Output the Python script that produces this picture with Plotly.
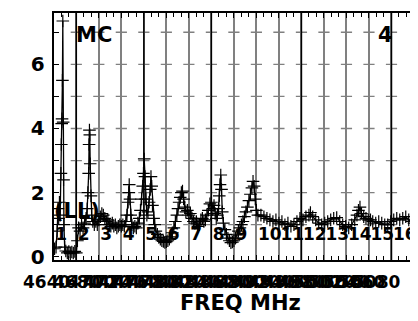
import plotly.graph_objects as go

# --- データ ---
# 周波数 (MHz) と VSWR
freq = [4651, 4653, 4654.5, 4655.5, 4656.5, 4657.5, 4658.5, 4659.5, 4660, 4660.5,
        4661, 4661.5, 4662, 4662.5, 4663, 4663.5, 4664.5, 4666, 4668, 4670,
        4672, 4674, 4676, 4678, 4680, 4681.5, 4683, 4685, 4687, 4689,
        4691, 4693, 4694.5, 4695.5, 4696.5, 4697, 4697.5, 4698, 4698.5, 4699.5,
        4700.5, 4702, 4704, 4706, 4708, 4710, 4712, 4714, 4716, 4718,
        4720, 4722, 4724, 4726, 4728, 4730, 4732, 4734, 4736, 4738,
        4740, 4742, 4744, 4746, 4747.5, 4749, 4750, 4750.5, 4751.5, 4752.5,
        4754, 4756, 4758, 4760, 4762, 4764, 4765.5, 4767, 4768.5, 4769.5,
        4770.5, 4771.5, 4772.5, 4774, 4775.5, 4777, 4778.5, 4779.5, 4780.5, 4781.5,
        4783, 4784.5, 4786, 4788, 4790, 4792, 4794, 4796, 4798, 4800,
        4802, 4804, 4806, 4808, 4810, 4812, 4814, 4815.5, 4817, 4818.5,
        4820, 4821.5, 4823, 4824.5, 4826, 4828, 4830, 4832, 4834, 4836,
        4838, 4840, 4842, 4844, 4846, 4848, 4850, 4852, 4854, 4856,
        4858, 4860, 4862, 4863.5, 4865, 4866.5, 4868, 4869.5, 4870.5, 4871.5,
        4872.5, 4873.5, 4874.5, 4876, 4878, 4880, 4882, 4884, 4886, 4888,
        4890, 4892, 4894, 4896, 4898, 4900, 4902, 4904, 4906, 4908,
        4910, 4912, 4914, 4915.5, 4917, 4918.5, 4920, 4922, 4926, 4930,
        4934, 4938, 4942, 4946, 4950, 4954, 4958, 4962, 4966, 4970,
        4974, 4978, 4982, 4986, 4990, 4992, 4995, 4999, 5003, 5007,
        5011, 5015, 5019, 5023, 5027, 5031, 5035, 5039, 5043, 5047,
        5051, 5054, 5056, 5058, 5060, 5063, 5066, 5069, 5072, 5075,
        5079, 5083, 5087, 5091, 5095, 5099, 5103, 5107, 5111, 5115,
        5119, 5123, 5127, 5130]
vswr = [0.25, 0.3, 0.8, 1.5, 1.2, 1.7, 1.3, 2.6, 3.5, 4.15,
        4.3, 5.5, 7.35, 4.2, 2.4, 1.0, 0.3, 0.18, 0.12, 0.16,
        0.1, 0.15, 0.12, 0.17, 0.12, 0.5, 0.9, 0.8, 1.0, 0.9,
        1.05, 1.2, 1.5, 2.0, 2.6, 3.5, 3.95, 3.8, 2.9, 1.9,
        1.3, 1.1, 1.0, 1.1, 1.0, 1.15, 1.25, 1.35, 1.3, 1.2,
        1.1, 1.15, 1.0, 0.95, 1.05, 0.95, 1.0, 0.9, 0.95, 1.0,
        0.95, 1.0, 0.95, 1.1, 1.3, 1.7, 2.0, 2.25, 1.8, 1.3,
        1.0, 0.9, 0.95, 0.9, 1.05, 1.2, 1.45, 1.8, 2.2, 2.6,
        3.05, 2.5, 1.8, 1.3, 1.4, 1.7, 2.1, 2.5, 2.2, 1.6,
        1.2, 1.0, 0.8, 0.7, 0.6, 0.55, 0.5, 0.48, 0.45, 0.47,
        0.5, 0.55, 0.62, 0.75, 0.9, 1.1, 1.3, 1.5, 1.7, 1.85,
        2.0, 2.05, 1.8, 1.55, 1.4, 1.45, 1.3, 1.35, 1.2, 1.1,
        1.05, 1.1, 0.95, 1.0, 1.15, 1.2, 1.1, 1.15, 1.3, 1.45,
        1.65, 1.7, 1.5, 1.6, 1.35, 1.2, 1.3, 1.5, 1.9, 2.25,
        2.55, 2.1, 1.4, 1.05, 0.85, 0.7, 0.58, 0.5, 0.44, 0.46,
        0.5, 0.58, 0.68, 0.8, 0.9, 1.0, 1.1, 1.25, 1.4, 1.55,
        1.75, 1.95, 2.15, 2.35, 2.2, 1.8, 1.45, 1.3, 1.3, 1.25,
        1.2, 1.15, 1.1, 1.15, 1.05, 1.1, 1.0, 1.05, 0.95, 1.0,
        1.1, 1.2, 1.15, 1.25, 1.3, 1.38, 1.25, 1.15, 1.05, 1.0,
        1.05, 1.1, 1.15, 1.2, 1.22, 1.1, 1.0, 0.95, 0.9, 1.0,
        1.15, 1.3, 1.45, 1.55, 1.35, 1.25, 1.2, 1.15, 1.15, 1.1,
        1.05, 1.1, 1.05, 1.0, 1.0, 1.1, 1.15, 1.2, 1.15, 1.2,
        1.25, 1.15, 1.1, 1.05]

# チャンネル番号と開始周波数
chan_no = ["1", "2", "3", "4", "5", "6", "7", "8",
           "9", "10", "11", "12", "13", "14", "15", "16"]
chan_start = [4650, 4680, 4710, 4740, 4770, 4800, 4830, 4860,
              4890, 4920, 4950, 4980, 5010, 5040, 5070, 5100]

# 周波数目盛り
tick_freq = [4640, 4680, 4700, 4720, 4740, 4760, 4780, 4800, 4820, 4840,
             4860, 4880, 4900, 4920, 4940, 4960, 4980, 5000, 5020, 5040,
             5060, 5080]

# 濃い縦線
dark_lines = [4680, 4770, 4860, 4980, 5100]

X_MIN, X_MAX = 4650, 5130
Y_MIN, Y_MAX = -0.1, 7.6
BOLD = dict(family="DejaVu Sans", color="black", weight="bold")

# 図の寸法 (ページ本体の余白 8px 分だけ左上にずらしてある)
FIG_W, FIG_H = 410, 313
M_L, M_R = 5, 2
PLOT_L = 46                      # 描画領域の左端 (図内 px)
PAPER_W = FIG_W - M_L - M_R
X_DOMAIN0 = (PLOT_L - M_L) / PAPER_W


def freq_to_paper(f):
    """周波数を paper 座標 (x) に変換"""
    frac = (f - X_MIN) / (X_MAX - X_MIN)
    return X_DOMAIN0 + frac * (1 - X_DOMAIN0)


fig = go.Figure()

# グリッド上の十字マーク
cx, cy = [], []
for c in chan_start[1:]:
    for j in range(1, 8):
        cx.append(c)
        cy.append(j)
fig.add_trace(go.Scatter(
    x=cx, y=cy, mode="markers", hoverinfo="skip",
    marker=dict(symbol="line-ew", size=8, line=dict(color="#808080", width=1.3))
))

# 濃い縦線
dx, dy = [], []
for f in dark_lines:
    dx += [f, f, None]
    dy += [Y_MIN, Y_MAX, None]
fig.add_trace(go.Scatter(x=dx, y=dy, mode="lines", hoverinfo="skip",
                         line=dict(color="black", width=1.5)))

# VSWR 曲線
fig.add_trace(go.Scatter(
    x=freq, y=vswr, mode="lines+markers",
    line=dict(color="black", width=1.3),
    marker=dict(symbol="cross-thin", size=9, line=dict(color="black", width=1.2))
))

# チャンネル番号
fig.add_trace(go.Scatter(
    x=[c + 2 for c in chan_start], y=[0.66] * len(chan_start),
    mode="text", text=chan_no, textposition="middle right",
    textfont=dict(BOLD, size=17),
    cliponaxis=False
))

# 周波数目盛りラベル (軸の範囲外にもあるので paper 座標で置く)
annotations = []
for t in tick_freq:
    annotations.append(dict(
        x=freq_to_paper(t), y=0, xref="paper", yref="paper",
        text=str(t), showarrow=False, xanchor="center", yanchor="middle",
        yshift=-22, font=dict(BOLD, size=17)))

annotations += [
    dict(x=4704, y=6.9, xref="x", yref="y", text="MC", showarrow=False,
         font=dict(BOLD, size=21)),
    dict(x=5092, y=6.9, xref="x", yref="y", text="4", showarrow=False,
         font=dict(BOLD, size=21)),
    dict(x=4681, y=1.44, xref="x", yref="y", text="(LL)", showarrow=False,
         font=dict(BOLD, size=21)),
    dict(x=0.5, y=0, xref="x domain", yref="paper", text="FREQ MHz",
         showarrow=False, xanchor="center", yanchor="middle", xshift=7, yshift=-43,
         font=dict(BOLD, size=21)),
]

fig.update_layout(
    width=FIG_W, height=FIG_H,
    margin=dict(l=M_L, r=M_R, t=5, b=61),
    paper_bgcolor="white", plot_bgcolor="white",
    showlegend=False,
    xaxis=dict(
        domain=[X_DOMAIN0, 1], range=[X_MIN, X_MAX],
        tickmode="linear", tick0=X_MIN, dtick=30,
        ticks="inside", ticklen=5, tickcolor="black",
        showticklabels=False,
        showgrid=True, gridcolor="#808080", gridwidth=1.5,
        zeroline=False,
        showline=True, linecolor="black", linewidth=2, mirror="allticks",
        minor=dict(ticks="inside", dtick=10, tick0=X_MIN, ticklen=4,
                   tickcolor="black", showgrid=False),
    ),
    yaxis=dict(
        range=[Y_MIN, Y_MAX],
        tickmode="array", tickvals=[0, 1, 2, 3, 4, 5, 6, 7],
        ticktext=["0", "", "2", "", "4", "", "6", ""],
        ticks="inside", ticklen=5, tickcolor="black",
        ticklabelstandoff=3,
        tickfont=dict(BOLD, size=20),
        showgrid=False, zeroline=False,
        showline=True, linecolor="black", linewidth=2, mirror=True,
    ),
    annotations=annotations,
)

fig.write_html("out.html")
